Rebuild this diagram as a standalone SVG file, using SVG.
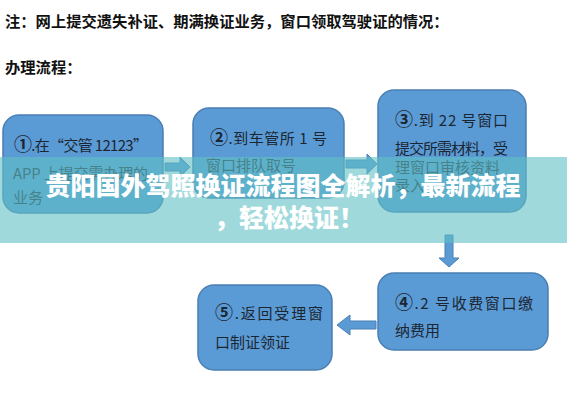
<svg xmlns="http://www.w3.org/2000/svg" width="567" height="400" viewBox="0 0 567 400">
<style>
.hd{font-family:"Noto Sans CJK SC","Liberation Sans",sans-serif;font-size:15.3px;font-weight:bold;fill:#111}
.box{fill:#5b9bd5;stroke:#4a7fb3;stroke-width:1.5}
.t{font-family:"Noto Sans CJK SC","Liberation Sans",sans-serif;font-size:15px;fill:#1c2633}
.n{font-size:18px;font-weight:bold}
.arr{fill:#5b9bd5;stroke:#4a7fb3;stroke-width:1}
.ttl{font-family:"Noto Sans CJK SC","Liberation Sans",sans-serif;font-size:25px;font-weight:900;fill:#fff}
</style>
<rect width="567" height="400" fill="#fff"/>
<text class="hd" x="5" y="27">注：网上提交遗失补证、期满换证业务，窗口领取驾驶证的情况：</text>
<text class="hd" x="5" y="73">办理流程：</text>
<g id="connectors">
<polygon class="arr" points="165,163 180,163 180,157 190,167 180,177 180,171 165,171"/>
<polygon class="arr" points="346,160 367,160 367,154 377,164 367,174 367,168 346,168"/>
<polygon class="arr" points="445,235 453,235 453,258 459,258 449,267 439,258 445,258"/>
<polygon class="arr" points="376,321 350,321 350,315 337,325 350,335 350,329 376,329"/>
</g>
<g id="node1">
<rect class="box" x="3" y="115" width="160" height="98" rx="16"/>
<text class="t" x="14" y="151" textLength="134"><tspan class="n">①</tspan>.在“交管 12123”</text>
<text class="t" x="13" y="179" textLength="135">APP 上提交需办理的</text>
<text class="t" x="13" y="203">业务</text>
</g>
<g id="node2">
<rect class="box" x="193" y="108" width="151" height="90" rx="16"/>
<text class="t" x="210" y="144" textLength="117"><tspan class="n">②</tspan>.到车管所 1 号</text>
<text class="t" x="206" y="171">窗口排队取号</text>
</g>
<g id="node3">
<rect class="box" x="378" y="90" width="148" height="122" rx="16"/>
<text class="t" x="395" y="126" textLength="113"><tspan class="n">③</tspan>.到 22 号窗口</text>
<text class="t" x="395" y="154" textLength="113">提交所需材料，受</text>
<text class="t" x="395" y="173">理窗口审核资料</text>
<text class="t" x="395" y="191">录入</text>
</g>
<g id="node4">
<rect class="box" x="378" y="273" width="170" height="77" rx="16"/>
<text class="t" x="395" y="309" textLength="138"><tspan class="n">④</tspan>.2 号收费窗口缴</text>
<text class="t" x="395" y="336">纳费用</text>
</g>
<g id="node5">
<rect class="box" x="198" y="285" width="134" height="85" rx="16"/>
<text class="t" x="215" y="319" textLength="108"><tspan class="n">⑤</tspan>.返回受理窗</text>
<text class="t" x="215" y="348">口制证领证</text>
</g>
<rect x="0" y="157" width="567" height="86" fill="#61bfc5" opacity="0.6"/>
<text class="ttl" x="283" y="195" text-anchor="middle">贵阳国外驾照换证流程图全解析，最新流程</text>
<text class="ttl" x="214" y="227">，轻松换证！</text>
</svg>
